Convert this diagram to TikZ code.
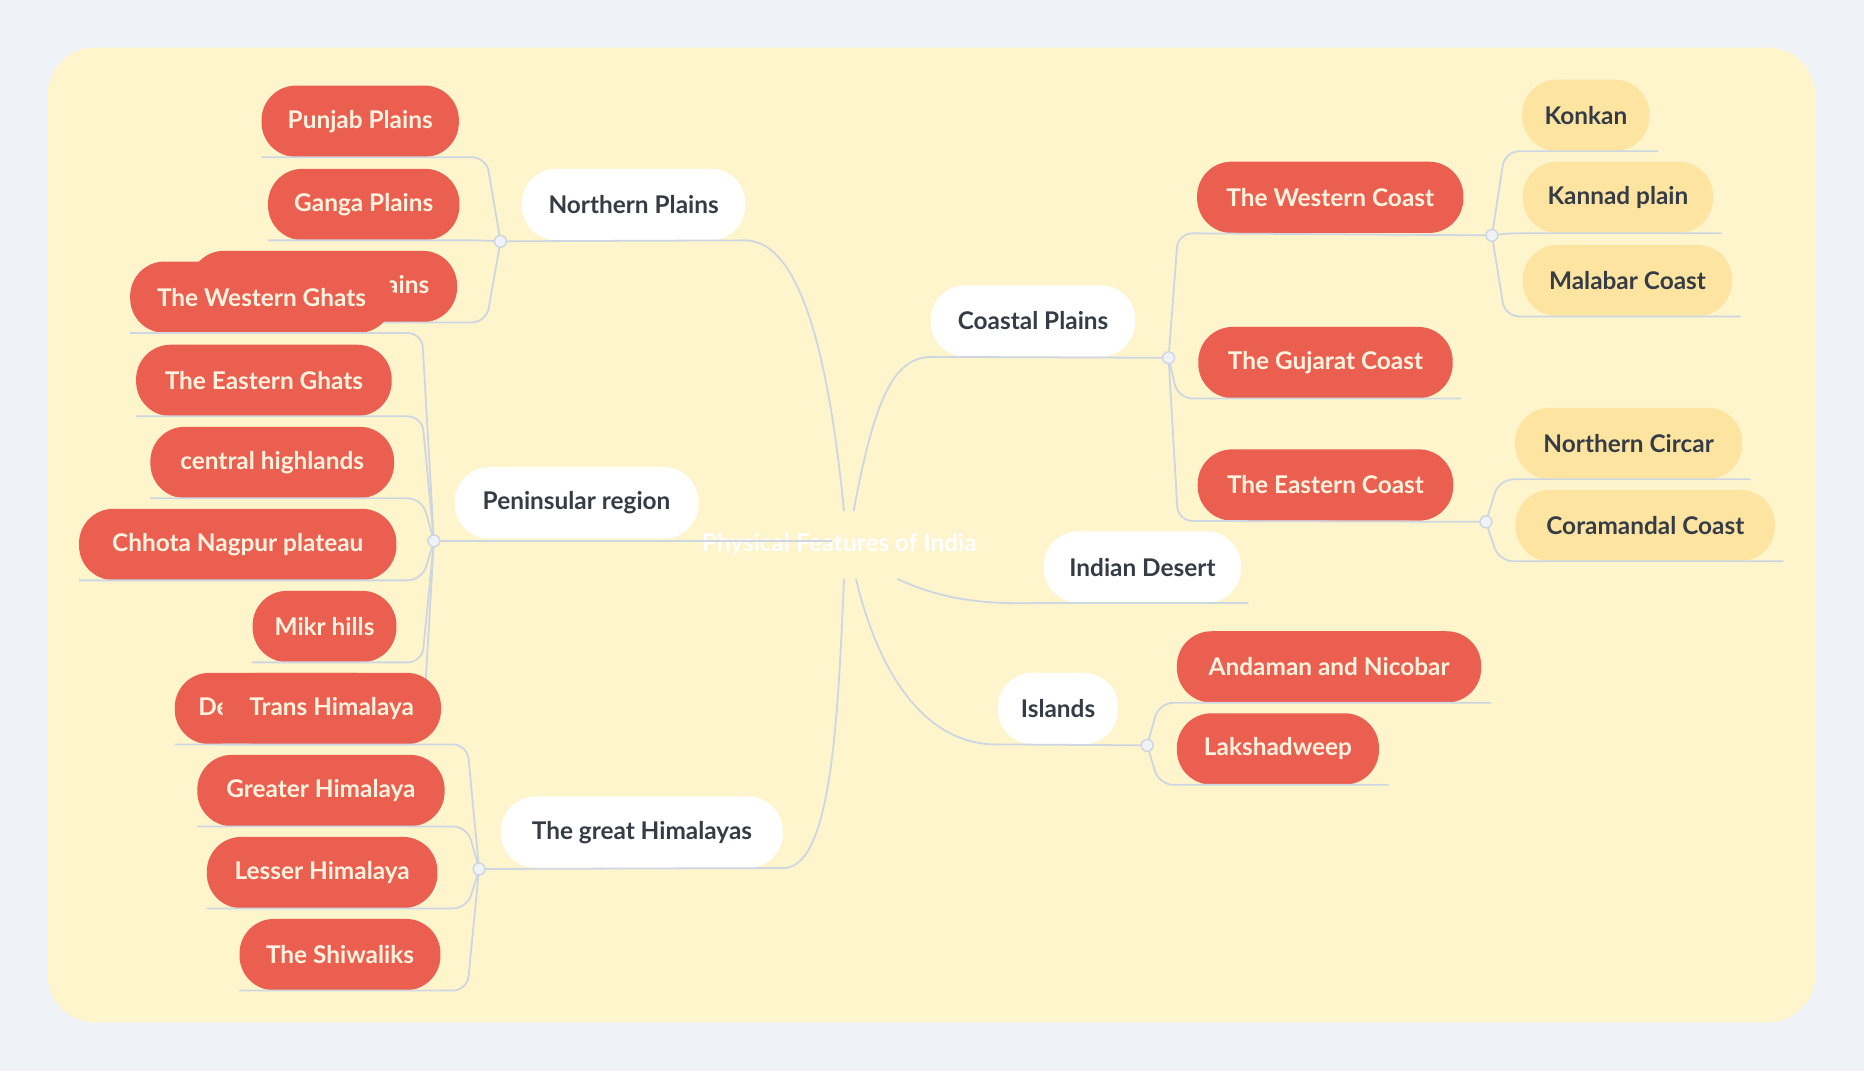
\documentclass[tikz,border=0pt]{standalone}
\usepackage{fontspec}
\setmainfont{Lato}
\usetikzlibrary{calc}
\definecolor{pagebg}{HTML}{EFF3F7}
\definecolor{canvas}{HTML}{FEF5CD}
\definecolor{redp}{HTML}{EB5F51}
\definecolor{cream}{HTML}{FFF3DF}
\definecolor{yelp}{HTML}{FDE5A1}
\definecolor{darkt}{HTML}{363C45}
\definecolor{lin}{HTML}{CDD6E1}
\tikzset{
 pillbase/.style={rounded corners=29pt,minimum height=60pt,inner xsep=0pt,font=\fontsize{20.5}{24}\selectfont\bfseries},
 whitep/.style={pillbase,fill=white,text=darkt},
 redpill/.style={pillbase,fill=redp,text=cream},
 yelpill/.style={pillbase,fill=yelp,text=darkt},
 conn/.style={draw=lin,line width=1.5pt,rounded corners=12pt},
 curv/.style={draw=lin,line width=1.5pt},
 hubdot/.style={circle,draw=lin,fill=pagebg,line width=1.2pt,minimum size=10pt,inner sep=0pt},
}
\newcommand{\pillat}[5]{\node[#1,minimum width=#4pt] (#2) at (#3) {#5};}
\begin{document}
\begin{tikzpicture}[x=1pt,y=-1pt]
\fill[pagebg] (0,0) rectangle (1568,901);
\useasboundingbox (0,0) rectangle (1568,901);
\fill[canvas,rounded corners=40pt] (40,40) rectangle (1527,860);

\node[text=white,font=\fontsize{20.5}{24}\selectfont\bfseries] (root) at (706,458) {Physical Features of India};
\coordinate (rtopL) at (710,430);
\coordinate (rtopR) at (718,430);
\coordinate (rbotL) at (710,487);
\coordinate (rbotR) at (720,487);
\coordinate (rdes) at (755,487);
\coordinate (rmid) at (700,455);

% hubs
\coordinate (hNP) at (421,203); \coordinate (hNPx) at (409,0);
\coordinate (hPR) at (365,455); \coordinate (hPRx) at (355,0);
\coordinate (hGH) at (403,731); \coordinate (hGHx) at (393,0);
\coordinate (hCP) at (983,301); \coordinate (hCPx) at (991,0);
\coordinate (hWC) at (1255,198); \coordinate (hWCx) at (1266,0);
\coordinate (hEC) at (1250,439); \coordinate (hECx) at (1261,0);
\coordinate (hIS) at (965,627); \coordinate (hISx) at (975,0);

% level 1
\pillat{whitep}{np}{533,172}{188}{Northern Plains}
\pillat{whitep}{pr}{485,423}{205}{Peninsular region}
\pillat{whitep}{gh}{540,700}{237}{The great Himalayas}
\pillat{whitep}{cp}{869,270}{172}{Coastal Plains}
\pillat{whitep}{id}{961,477}{166}{Indian Desert}
\pillat{whitep}{is}{890,596}{101}{Islands}

% level1 connectors
\draw[curv] (hNP) -- (np.south east) .. controls (680,203) and (700,330) .. (rtopL);
\draw[curv] (hPR) -- (rmid);
\draw[curv] (hGH) -- (gh.south east) .. controls (700,731) and (705,600) .. (rbotL);
\draw[curv] (rtopR) .. controls (735,340) and (750,301) .. (cp.south west) -- (hCP);
\draw[curv] (rdes) .. controls (800,508) and (840,508) .. (id.south west) -- ([xshift=6pt]id.south east);
\draw[curv] (rbotR) .. controls (740,570) and (780,627) .. (is.south west) -- (hIS);

% Northern plains children
\pillat{redpill}{pb}{303,102}{166}{Punjab Plains}
\pillat{redpill}{gp}{306,172}{161}{Ganga Plains}
\pillat{redpill}{bp}{272,241}{225}{Brahmaputra Plains}
\foreach \n in {pb,gp,bp}{\draw[conn] (\n.south west) -- (hNPx |- \n.south) -- (hNP);}

% Peninsular children
\pillat{redpill}{dp}{237,596}{180}{Deccan plateau}
\pillat{redpill}{wg}{220,250}{221}{The Western Ghats}
\pillat{redpill}{eg}{222,320}{215}{The Eastern Ghats}
\pillat{redpill}{ch}{229,389}{205}{central highlands}
\pillat{redpill}{cn}{200,458}{267}{Chhota Nagpur plateau}
\pillat{redpill}{mh}{273,527}{121}{Mikr hills}
\foreach \n in {wg,eg,ch,cn,mh,dp}{\draw[conn] (\n.south west) -- (hPRx |- \n.south) -- (hPR);}

% Himalaya children
\pillat{redpill}{th}{279,596}{184}{Trans Himalaya}
\pillat{redpill}{grh}{270,665}{208}{Greater Himalaya}
\pillat{redpill}{lh}{271,734}{194}{Lesser Himalaya}
\pillat{redpill}{sw}{286,803}{169}{The Shiwaliks}
\foreach \n in {th,grh,lh,sw}{\draw[conn] (\n.south west) -- (hGHx |- \n.south) -- (hGH);}

% Coastal children
\pillat{redpill}{wc}{1119,166}{224}{The Western Coast}
\pillat{redpill}{gc}{1115,305}{214}{The Gujarat Coast}
\pillat{redpill}{ec}{1115,408}{215}{The Eastern Coast}
\draw[conn] (hCP) -- (hCPx |- wc.south) -- (hWC);
\draw[conn] (hCP) -- (hCPx |- gc.south) -- ([xshift=7pt]gc.south east);
\draw[conn] (hCP) -- (hCPx |- ec.south) -- (hEC);

\pillat{yelpill}{ko}{1334,97}{107}{Konkan}
\pillat{yelpill}{kp}{1361,166}{160}{Kannad plain}
\pillat{yelpill}{mc}{1369,236}{176}{Malabar Coast}
\foreach \n in {ko,kp,mc}{\draw[conn] (hWC) -- (hWCx |- \n.south) -- ([xshift=7pt]\n.south east);}
\pillat{yelpill}{nc}{1370,373}{191}{Northern Circar}
\pillat{yelpill}{cc}{1384,442}{218}{Coramandal Coast}
\foreach \n in {nc,cc}{\draw[conn] (hEC) -- (hECx |- \n.south) -- ([xshift=7pt]\n.south east);}

% Islands children
\pillat{redpill}{an}{1118,561}{256}{Andaman and Nicobar}
\pillat{redpill}{lk}{1075,630}{170}{Lakshadweep}
\foreach \n in {an,lk}{\draw[conn] (hIS) -- (hISx |- \n.south) -- ([xshift=8pt]\n.south east);}

\foreach \h in {hNP,hPR,hGH,hCP,hWC,hEC,hIS}{\node[hubdot] at (\h) {};}
\end{tikzpicture}
\end{document}
